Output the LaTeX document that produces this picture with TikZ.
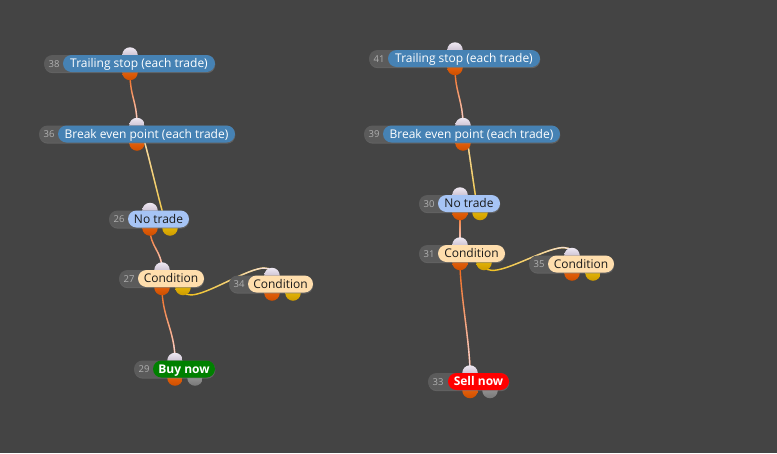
\documentclass[tikz,border=0pt]{standalone}
\usepackage{fontspec}
\setmainfont{Open Sans}
\usetikzlibrary{fadings,shadows}
\definecolor{bgc}{HTML}{444444}
\definecolor{idgray}{HTML}{5B5B5B}
\definecolor{idtext}{HTML}{B0B0B0}
\definecolor{pblue}{HTML}{4682B4}
\definecolor{plight}{HTML}{A6C4F5}
\definecolor{ppeach}{HTML}{FFDEAD}
\definecolor{pgreen}{HTML}{008000}
\definecolor{pred}{HTML}{FF0000}
\definecolor{darktext}{HTML}{1A1A1A}
\definecolor{edgeorange}{HTML}{F26410}
\definecolor{edgeyellow}{HTML}{F2C010}
\definecolor{edgeend}{HTML}{F4E2EC}
\tikzfading[name=fadesouth, top color=transparent!100, bottom color=transparent!0]
\tikzfading[name=fadenorth, top color=transparent!0, bottom color=transparent!100]
\tikzfading[name=fadeeast, left color=transparent!100, right color=transparent!0]
\pgfdeclarelayer{back}
\pgfdeclarelayer{bg}
\pgfsetlayers{back,bg,main}
\tikzset{
  idbox/.style={rectangle, rounded corners=8.5pt, fill=idgray, minimum height=17pt, inner sep=0pt,
    drop shadow={opacity=0.5, shadow xshift=0.3pt, shadow yshift=-1.2pt}},
  idtxt/.style={text=idtext, font=\fontsize{9.5}{11}\selectfont, inner sep=0pt, text height=7pt, text depth=0pt},
  pill/.style={rectangle, rounded corners=8.5pt, minimum height=17pt, inner sep=0pt,
    text height=10pt, text depth=2pt, font=\fontsize{12}{14}\selectfont},
  darkpill/.style={pill, text=darktext},
  whitepill/.style={pill, text=white},
  boldpill/.style={pill, text=white, font=\fontsize{12}{14}\selectfont\bfseries},
  port/.style={circle, minimum size=15.5pt, inner sep=0pt},
  inport/.style={port, top color={rgb,255:red,238;green,232;blue,242}, bottom color={rgb,255:red,176;green,162;blue,184}},
  outorange/.style={port, top color={rgb,255:red,245;green,110;blue,20}, bottom color={rgb,255:red,205;green,78;blue,0}},
  outyellow/.style={port, top color={rgb,255:red,245;green,200;blue,10}, bottom color={rgb,255:red,205;green,155;blue,0}},
  outgray/.style={port, top color={rgb,255:red,165;green,165;blue,165}, bottom color={rgb,255:red,120;green,120;blue,120}},
  edge/.style={line width=1.4pt, line cap=round},
}
\newcommand{\flow}[5]{%
  \draw[edge, draw=#1] (#3.center) .. controls +(0,#5) and +(0,-#5) .. (#4.center);
  \draw[edge, draw=edgeend, path fading=#2] (#3.center) .. controls +(0,#5) and +(0,-#5) .. (#4.center);
}
\begin{document}
\begin{tikzpicture}[x=1pt, y=-1pt]
\begin{pgfonlayer}{back}
\fill[bgc] (0,0) rectangle (777,453);
\end{pgfonlayer}
\useasboundingbox (0,0) rectangle (777,453);

% ---------- left graph ----------
% 38 Trailing stop
\node[inport] (i38) at (130,55) {};
\node[outorange] (o38) at (130,72.5) {};
\node[idbox, minimum width=171pt] (g38) at (129.5,63.5) {};
\node[idtxt] (t38) at (54,63.5) {38};
\node[whitepill, fill=pblue, minimum width=152pt] (n38) at (139,63.5) {Trailing stop (each trade)};
% 36 Break even
\node[inport] (i36) at (137,125.5) {};
\node[outorange] (o36) at (137,143) {};
\node[idbox, minimum width=196pt] (g36) at (137,134) {};
\node[idtxt] (t36) at (49,134) {36};
\node[whitepill, fill=pblue, minimum width=177pt] (n36) at (146.5,134) {Break even point (each trade)};
% 26 No trade
\node[inport] (i26) at (150,210.5) {};
\node[outorange] (o26) at (150,228) {};
\node[outyellow] (y26) at (170,228) {};
\node[idbox, minimum width=80pt] (g26) at (149,219) {};
\node[idtxt] (t26) at (119,219) {26};
\node[darkpill, fill=plight, minimum width=61pt] (n26) at (158.5,219) {No trade};
% 27 Condition
\node[inport] (i27) at (162,270) {};
\node[outorange] (o27) at (162,287.5) {};
\node[outyellow] (y27) at (183,287.5) {};
\node[idbox, minimum width=85pt] (g27) at (161.5,278.5) {};
\node[idtxt] (t27) at (129,278.5) {27};
\node[darkpill, fill=ppeach, minimum width=66pt] (n27) at (171,278.5) {Condition};
% 34 Condition
\node[inport] (i34) at (272,275.5) {};
\node[outorange] (o34) at (272,293) {};
\node[outyellow] (y34) at (293,293) {};
\node[idbox, minimum width=84pt] (g34) at (271,284) {};
\node[idtxt] (t34) at (239,284) {34};
\node[darkpill, fill=ppeach, minimum width=65pt] (n34) at (280.5,284) {Condition};
% 29 Buy now
\node[inport] (i29) at (175,360.5) {};
\node[outorange] (o29) at (175,378) {};
\node[outgray] (x29) at (195,378) {};
\node[idbox, minimum width=81pt] (g29) at (174.5,369) {};
\node[idtxt] (t29) at (144,369) {29};
\node[boldpill, fill=pgreen, minimum width=62pt] (n29) at (184,369) {Buy now};

% ---------- right graph ----------
% 41 Trailing stop
\node[inport] (i41) at (455,50) {};
\node[outorange] (o41) at (455,67.5) {};
\node[idbox, minimum width=171pt] (g41) at (454.5,58.5) {};
\node[idtxt] (t41) at (379,58.5) {41};
\node[whitepill, fill=pblue, minimum width=152pt] (n41) at (464,58.5) {Trailing stop (each trade)};
% 39 Break even
\node[inport] (i39) at (463,125.5) {};
\node[outorange] (o39) at (463,143) {};
\node[idbox, minimum width=196pt] (g39) at (462,134) {};
\node[idtxt] (t39) at (374,134) {39};
\node[whitepill, fill=pblue, minimum width=177pt] (n39) at (471.5,134) {Break even point (each trade)};
% 30 No trade
\node[inport] (i30) at (460,195) {};
\node[outorange] (o30) at (460,212.5) {};
\node[outyellow] (y30) at (480,212.5) {};
\node[idbox, minimum width=81pt] (g30) at (459.5,203.5) {};
\node[idtxt] (t30) at (429,203.5) {30};
\node[darkpill, fill=plight, minimum width=62pt] (n30) at (469,203.5) {No trade};
% 31 Condition
\node[inport] (i31) at (460,245) {};
\node[outorange] (o31) at (460,262.5) {};
\node[outyellow] (y31) at (484,262.5) {};
\node[idbox, minimum width=86pt] (g31) at (462,253.5) {};
\node[idtxt] (t31) at (429,253.5) {31};
\node[darkpill, fill=ppeach, minimum width=67pt] (n31) at (471.5,253.5) {Condition};
% 35 Condition
\node[inport] (i35) at (572,255.5) {};
\node[outorange] (o35) at (572,273) {};
\node[outyellow] (y35) at (593,273) {};
\node[idbox, minimum width=85pt] (g35) at (571.5,264) {};
\node[idtxt] (t35) at (539,264) {35};
\node[darkpill, fill=ppeach, minimum width=66pt] (n35) at (581,264) {Condition};
% 33 Sell now
\node[inport] (i33) at (470,373) {};
\node[outorange] (o33) at (470,390.5) {};
\node[outgray] (x33) at (490,390.5) {};
\node[idbox, minimum width=81pt] (g33) at (468.5,381.5) {};
\node[idtxt] (t33) at (438,381.5) {33};
\node[boldpill, fill=pred, minimum width=61pt] (n33) at (478.5,381.5) {Sell now};

% ---------- connectors ----------
\begin{pgfonlayer}{bg}
\flow{edgeorange}{fadesouth}{o38}{i36}{25}
\flow{edgeyellow}{fadenorth}{y26}{i36}{30}
\flow{edgeorange}{fadesouth}{o26}{i27}{20}
\flow{edgeyellow}{fadeeast}{y27}{i34}{30}
\flow{edgeorange}{fadesouth}{o27}{i29}{30}
\flow{edgeorange}{fadesouth}{o41}{i39}{25}
\flow{edgeyellow}{fadenorth}{y30}{i39}{30}
\flow{edgeorange}{fadesouth}{o30}{i31}{15}
\flow{edgeyellow}{fadeeast}{y31}{i35}{30}
\flow{edgeorange}{fadesouth}{o31}{i33}{30}
\end{pgfonlayer}
\end{tikzpicture}
\end{document}
